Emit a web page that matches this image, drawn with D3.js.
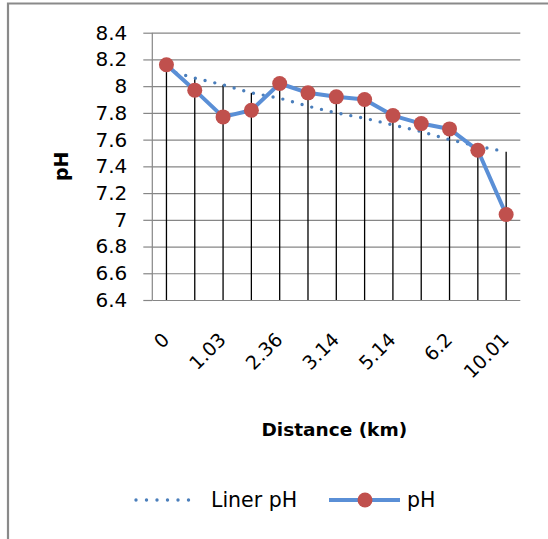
<!DOCTYPE html>
<html>
<head>
<meta charset="utf-8">
<script src="https://cdn.jsdelivr.net/npm/d3@7"></script>
<style>
  body { margin: 0; background: #fff; }
  svg { display: block; font-family: "DejaVu Sans", sans-serif; }
</style>
</head>
<body>
<div id="chart"></div>
<script>
// data (only every second distance label is printed)
const distances = ["0", "", "1.03", "", "2.36", "", "3.14", "", "5.14", "", "6.2", "", "10.01"];
const phValues = [8.16, 7.97, 7.77, 7.82, 8.02, 7.95, 7.92, 7.90, 7.78, 7.72, 7.68, 7.52, 7.04];
const linerPh = [8.12, 8.06, 8.01, 7.95, 7.91, 7.85, 7.80, 7.76, 7.71, 7.66, 7.60, 7.55, 7.51];
const yTicks = [6.4, 6.6, 6.8, 7, 7.2, 7.4, 7.6, 7.8, 8, 8.2, 8.4];

const W = 548, H = 539;
const plot = { left: 152.3, right: 520.3, top: 32.7, bottom: 300 };

const svg = d3.select("#chart").append("svg")
  .attr("width", W)
  .attr("height", H);

svg.append("rect").attr("width", W).attr("height", H).attr("fill", "#fff");

// outer frame (left + top edges visible)
svg.append("path")
  .attr("d", `M8,${H} L8,3.5 L${W},3.5`)
  .attr("fill", "none")
  .attr("stroke", "#8a8a8a")
  .attr("stroke-width", 2.2);

// scales
const x = d3.scaleBand()
  .domain(distances.map((d, i) => i))
  .range([plot.left, plot.right]);
const y = d3.scaleLinear().domain([6.4, 8.4]).range([plot.bottom, plot.top]);
const cx = i => x(i) + x.bandwidth() / 2;

// horizontal grid
svg.append("g")
  .attr("class", "grid")
  .attr("transform", `translate(${plot.left},0)`)
  .call(d3.axisLeft(y).tickValues(yTicks).tickSize(-(plot.right - plot.left)).tickFormat(""))
  .call(g => g.select(".domain").remove())
  .call(g => g.selectAll("line").attr("stroke", "#868686").attr("stroke-width", 1.2));

// y axis with outward ticks and labels
svg.append("g")
  .attr("transform", `translate(${plot.left},0)`)
  .call(d3.axisLeft(y).tickValues(yTicks).tickSize(9).tickPadding(16).tickFormat(d => d))
  .call(g => g.select(".domain").attr("stroke", "#868686").attr("stroke-width", 1.2).attr("d", `M0,${plot.top}V${plot.bottom}`))
  .call(g => g.selectAll("line").attr("stroke", "#868686").attr("stroke-width", 1.2))
  .call(g => g.selectAll("text").attr("fill", "#000").style("font-size", "20px").style("font-family", "DejaVu Sans"));

// x axis labels, rotated
const xAxis = svg.append("g")
  .attr("transform", `translate(0,${plot.bottom})`)
  .call(d3.axisBottom(x).tickSize(0).tickFormat(i => distances[i]));
xAxis.select(".domain").remove();
xAxis.selectAll("text")
  .attr("fill", "#000")
  .style("font-size", "19px")
  .style("font-family", "DejaVu Sans")
  .attr("text-anchor", "end")
  .attr("dy", null)
  .attr("y", 0)
  .attr("transform", "translate(4,41) rotate(-45)");

// drop lines
svg.append("g")
  .selectAll("line")
  .data(phValues)
  .join("line")
  .attr("x1", (d, i) => cx(i))
  .attr("x2", (d, i) => cx(i))
  .attr("y1", (d, i) => y(Math.max(d, linerPh[i])))
  .attr("y2", plot.bottom)
  .attr("stroke", "#000")
  .attr("stroke-width", 1.3);

const line = d3.line().x((d, i) => cx(i)).y(d => y(d));

// linear trend (dotted)
svg.append("path")
  .datum(linerPh)
  .attr("d", line)
  .attr("fill", "none")
  .attr("stroke", "#4a7ebb")
  .attr("stroke-width", 3.4)
  .attr("stroke-linecap", "round")
  .attr("stroke-dasharray", "0 10");

// pH series
svg.append("path")
  .datum(phValues)
  .attr("d", line)
  .attr("fill", "none")
  .attr("stroke", "#5a8fd6")
  .attr("stroke-width", 4)
  .attr("stroke-linejoin", "round");

svg.append("g")
  .selectAll("circle")
  .data(phValues)
  .join("circle")
  .attr("cx", (d, i) => cx(i))
  .attr("cy", d => y(d))
  .attr("r", 7.5)
  .attr("fill", "#c0504d");

// axis titles
svg.append("text")
  .attr("transform", `translate(68,${(plot.top + plot.bottom) / 2}) rotate(-90)`)
  .attr("text-anchor", "middle")
  .style("font-size", "19px")
  .style("font-weight", "bold")
  .text("pH");

svg.append("text")
  .attr("x", (plot.left + plot.right) / 2 - 2)
  .attr("y", 436)
  .attr("text-anchor", "middle")
  .style("font-size", "18.5px")
  .style("font-weight", "bold")
  .text("Distance (km)");

// legend
const legend = svg.append("g").attr("transform", "translate(0,500)");
legend.append("line")
  .attr("x1", 136).attr("x2", 199).attr("y1", 0).attr("y2", 0)
  .attr("stroke", "#4a7ebb")
  .attr("stroke-width", 3.4)
  .attr("stroke-linecap", "round")
  .attr("stroke-dasharray", "0 10.5");
legend.append("text")
  .attr("x", 211).attr("y", 7)
  .style("font-size", "20.5px")
  .text("Liner pH");
legend.append("line")
  .attr("x1", 329).attr("x2", 400).attr("y1", 0).attr("y2", 0)
  .attr("stroke", "#5a8fd6")
  .attr("stroke-width", 4);
legend.append("circle")
  .attr("cx", 365).attr("cy", 0).attr("r", 7.5)
  .attr("fill", "#c0504d");
legend.append("text")
  .attr("x", 407).attr("y", 7)
  .style("font-size", "20.5px")
  .text("pH");
</script>
</body>
</html>
